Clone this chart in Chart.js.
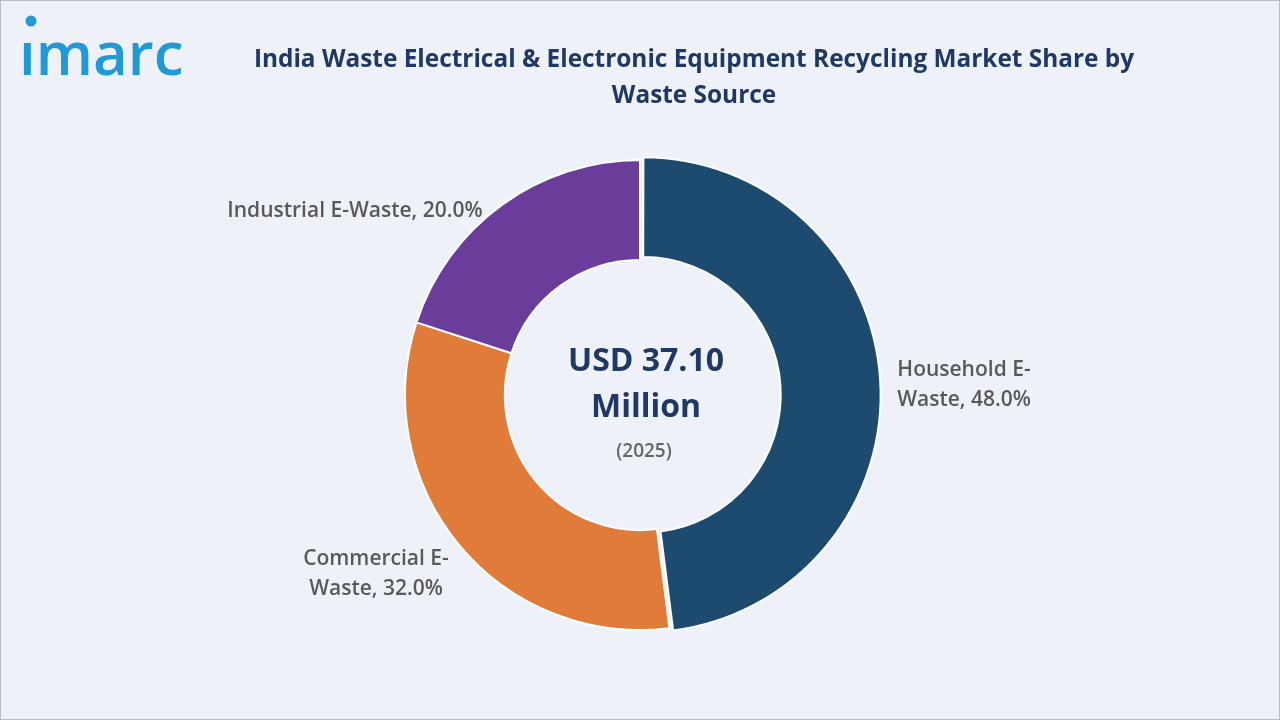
<!DOCTYPE html><html><head><meta charset="utf-8">
<script src="https://cdn.jsdelivr.net/npm/chart.js@4/dist/chart.umd.min.js"></script>
<style>html,body{margin:0;padding:0;background:#eef2f8;}#w{position:relative;width:1278px;height:718px;border:1px solid #b9bcc0;}
canvas{position:absolute;left:0;top:0;}</style></head><body><div id="w"><canvas id="c" width="1278" height="718"></canvas></div>
<script>
const categories=["Household E-Waste","Commercial E-Waste","Industrial E-Waste"];
const shares=[48.0,32.0,20.0];
const labelLines=[["Household E-","Waste, 48.0%"],["Commercial E-","Waste, 32.0%"],["Industrial E-Waste, 20.0%"]];
const colors=["#1d4b6f","#e07b39","#6a3d9a"];
const deco={id:'deco',afterDraw(ch){const x=ch.ctx;x.save();
x.fillStyle="#1f9ad6";x.font="600 60px 'Open Sans',sans-serif";x.textBaseline="alphabetic";x.fillText("ımarc",18,74);
x.beginPath();x.arc(30,20,5.5,0,7);x.fill();
x.fillStyle="#1f3864";x.textAlign="center";x.font="bold 24.4px 'Open Sans',sans-serif";
x.fillText("India Waste Electrical & Electronic Equipment Recycling Market Share by",693,66);
x.fillText("Waste Source",693,102);
const a=ch.getDatasetMeta(0).data[0];const cx=639,cy=a.y;
x.font="bold 32px 'Open Sans',sans-serif";x.fillText("USD 37.10",cx+6,cy-24);x.fillText("Million",cx+6,cy+22);
x.fillStyle="#666";x.font="600 19px 'Open Sans',sans-serif";x.fillText("(2025)",cx+4,cy+62);
x.font="600 21px 'Open Sans',sans-serif";x.fillStyle="#595959";
const pos=[[963,375],[375,564],[354,216]];
labelLines.forEach((l,i)=>{l.forEach((t,j)=>x.fillText(t,pos[i][0],pos[i][1]+j*30));});
x.restore();}};
new Chart(document.getElementById('c'),{type:'doughnut',data:{labels:categories,datasets:[{data:shares,backgroundColor:colors,borderColor:"#ffffff",borderWidth:2,offset:[12,0,0],cutout:"57.5%"}]},
options:{responsive:false,animation:false,layout:{padding:{top:152,bottom:82,left:0,right:0}},plugins:{legend:{display:false},tooltip:{enabled:false}}},plugins:[deco]});
</script></body></html>
